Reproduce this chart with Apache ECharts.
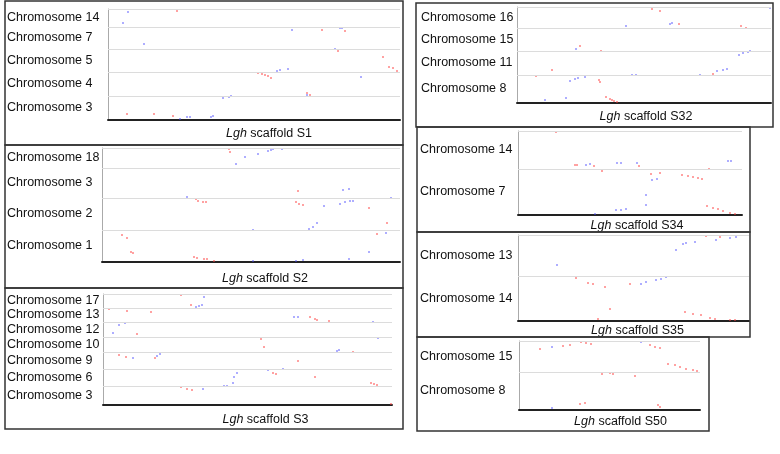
<!DOCTYPE html>
<html lang="en">
<head>
<meta charset="UTF-8">
<title>Lgh scaffold dot plots</title>
<style>
  html, body { margin: 0; padding: 0; background: #fff; }
  #chart { width: 780px; height: 454px; }
</style>
</head>
<body>
<div id="chart"></div>
<script src="https://cdn.jsdelivr.net/npm/echarts@6/dist/echarts.min.js"></script>
<script>
// scaffold S1
const s1Chroms = ['Chromosome 14', 'Chromosome 7', 'Chromosome 5', 'Chromosome 4', 'Chromosome 3'];
const s1Sizes = [18, 22, 23, 24, 24];
const s1Len = 292;
const s1Red = [[69,109],[214,90],[237,89],[230,69],[275,63],[281,53],[285,52],[289,49],[150,47],[154,46],[157,45],[160,44],[163,42],[199,27],[202,25],[19,6],[46,6],[65,4]];
const s1Blue = [[20,108],[15,97],[36,76],[184,90],[232,92],[234,92],[227,71],[169,49],[172,50],[180,51],[253,43],[199,25],[115,22],[121,23],[123,24],[72,1],[79,3],[82,3],[103,3],[105,4]];

// scaffold S2
const s2Chroms = ['Chromosome 18', 'Chromosome 3', 'Chromosome 2', 'Chromosome 1'];
const s2Sizes = [20, 30, 32, 32];
const s2Len = 298;
const s2Red = [[127,113],[128,110],[94,63],[96,61],[101,60],[104,60],[196,71],[194,60],[197,58],[201,57],[267,54],[285,39],[20,27],[25,24],[29,10],[31,9],[92,5],[95,4],[102,3],[105,3],[112,1],[275,28]];
const s2Blue = [[143,105],[134,98],[156,108],[166,111],[169,112],[171,113],[180,113],[85,65],[222,56],[241,72],[247,73],[238,58],[243,60],[248,61],[251,61],[289,64],[215,39],[211,35],[207,33],[151,32],[151,1],[194,1],[201,2],[247,3],[267,10],[284,29]];

// scaffold S3
const s3Chroms = ['Chromosome 17', 'Chromosome 13', 'Chromosome 12', 'Chromosome 10', 'Chromosome 9', 'Chromosome 6', 'Chromosome 3'];
const s3Sizes = [14, 14, 15, 15, 17, 17, 19];
const s3Len = 289;
const s3Red = [[78,110],[6,96],[24,94],[48,93],[88,100],[34,71],[16,50],[23,48],[52,47],[78,18],[84,16],[89,15],[158,66],[161,58],[170,32],[173,31],[195,44],[207,88],[212,86],[214,85],[226,84],[212,28],[250,53],[268,22],[271,21],[274,20],[288,1]];
const s3Blue = [[93,98],[96,99],[99,100],[101,108],[22,82],[16,80],[10,72],[30,47],[54,49],[57,51],[100,16],[121,19],[124,19],[130,22],[131,28],[134,32],[165,35],[180,36],[191,88],[195,88],[234,54],[236,55],[270,83],[275,67]];

// scaffold S32
const s32Chroms = ['Chromosome 16', 'Chromosome 15', 'Chromosome 11', 'Chromosome 8'];
const s32Sizes = [21, 23, 24, 28];
const s32Len = 254;
const s32Red = [[135,94],[143,92],[162,79],[224,77],[229,75],[63,57],[84,52],[35,33],[196,29],[19,27],[82,23],[83,21],[89,6],[93,4],[95,3],[97,2],[100,1]];
const s32Blue = [[253,95],[109,77],[153,79],[155,80],[59,54],[222,48],[226,50],[231,51],[233,52],[206,33],[210,34],[200,32],[183,28],[115,28],[119,28],[53,22],[58,24],[61,25],[68,26],[28,3],[49,5]];

// scaffold S34
const s34Chroms = ['Chromosome 14', 'Chromosome 7'];
const s34Sizes = [38, 46];
const s34Len = 224;
const s34Red = [[38,83],[57,50],[59,50],[76,49],[84,44],[121,49],[133,41],[142,42],[164,40],[170,39],[175,38],[180,37],[184,36],[191,46],[189,9],[195,7],[200,6],[205,4],[212,2],[217,1]];
const s34Blue = [[68,50],[72,51],[99,52],[103,52],[119,52],[134,35],[139,36],[128,20],[128,10],[98,5],[103,5],[108,6],[210,54],[213,54],[77,1]];

// scaffold S35
const s35Chroms = ['Chromosome 13', 'Chromosome 14'];
const s35Sizes = [41, 45];
const s35Len = 231;
const s35Red = [[188,85],[202,84],[58,43],[70,38],[75,37],[87,34],[112,37],[92,12],[80,2],[167,9],[175,7],[183,6],[192,3],[197,2],[212,1],[217,1]];
const s35Blue = [[198,81],[212,83],[218,84],[165,77],[168,78],[177,79],[158,71],[39,56],[123,37],[128,39],[138,41],[143,42],[148,44]];

// scaffold S50
const s50Chroms = ['Chromosome 15', 'Chromosome 8'];
const s50Sizes = [31, 38];
const s50Len = 181;
const s50Red = [[21,61],[44,64],[51,65],[62,68],[67,67],[72,66],[131,65],[136,63],[141,62],[149,46],[156,45],[161,43],[167,41],[174,40],[178,39],[83,36],[91,37],[94,36],[116,34],[61,6],[66,7],[139,5],[141,3]];
const s50Blue = [[33,63],[122,68],[33,2]];

const panels = [
  { id: 'S1', chroms: s1Chroms, sizes: s1Sizes, len: s1Len, red: s1Red, blue: s1Blue },
  { id: 'S2', chroms: s2Chroms, sizes: s2Sizes, len: s2Len, red: s2Red, blue: s2Blue },
  { id: 'S3', chroms: s3Chroms, sizes: s3Sizes, len: s3Len, red: s3Red, blue: s3Blue },
  { id: 'S32', chroms: s32Chroms, sizes: s32Sizes, len: s32Len, red: s32Red, blue: s32Blue },
  { id: 'S34', chroms: s34Chroms, sizes: s34Sizes, len: s34Len, red: s34Red, blue: s34Blue },
  { id: 'S35', chroms: s35Chroms, sizes: s35Sizes, len: s35Len, red: s35Red, blue: s35Blue },
  { id: 'S50', chroms: s50Chroms, sizes: s50Sizes, len: s50Len, red: s50Red, blue: s50Blue }
];

// grid: [left, top, width, height], labelX: left edge of chromosome names,
// off: x axis line offset, gap: name gap, shift: title shift to the right, box: frame rect
const layout = [
  { grid: [108, 9, 292, 111], labelX: 7, off: 3, gap: 4, shift: 15, box: [5, 1, 398, 144] },
  { grid: [102, 148, 298, 114], labelX: 7, off: 3, gap: 7, shift: 14, box: [5, 145, 398, 143] },
  { grid: [103, 294, 289, 111], labelX: 7, off: 3, gap: 5, shift: 18, box: [5, 288, 398, 141] },
  { grid: [517, 7, 254, 96], labelX: 421, off: 2, gap: 5, shift: 2, box: [416, 3, 357, 124] },
  { grid: [518, 131, 224, 84], labelX: 420, off: 3, gap: 1, shift: 7, box: [417, 127, 333, 105] },
  { grid: [518, 235, 231, 86], labelX: 420, off: 3, gap: 0, shift: 4, box: [417, 232, 333, 105] },
  { grid: [519, 341, 181, 69], labelX: 420, off: 2, gap: 3, shift: 11, box: [417, 337, 292, 94] }
];

const FONT = '"Liberation Sans", Arial, sans-serif';
const myChart = echarts.init(document.getElementById('chart'));

const grids = [], xAxes = [], yAxes = [], series = [], graphics = [];

panels.forEach(function (p, i) {
  const L = layout[i];
  const total = p.sizes.reduce((a, b) => a + b, 0);
  const bounds = [];
  const centers = [];
  let acc = 0;
  p.sizes.forEach(function (s) {
    bounds.push(total - acc);
    centers.push(total - acc - s / 2);
    acc += s;
  });

  grids.push({ left: L.grid[0], top: L.grid[1], width: L.grid[2], height: L.grid[3] });

  xAxes.push({
    type: 'value', gridIndex: i, min: 0, max: p.len, offset: L.off,
    axisLine: { show: true, lineStyle: { color: '#222', width: 2 } },
    axisTick: { show: false },
    axisLabel: { show: false },
    splitLine: { show: false },
    name: '{i|Lgh} scaffold ' + p.id,
    nameLocation: 'middle',
    nameGap: L.gap,
    nameTextStyle: {
      color: '#111', fontSize: 12.5, fontFamily: FONT,
      padding: [0, 0, 0, L.shift * 2],
      rich: { i: { fontStyle: 'italic', fontSize: 12.5, fontFamily: FONT, color: '#111' } }
    }
  });

  yAxes.push({
    type: 'value', gridIndex: i, min: 0, max: total,
    axisLine: { show: true, lineStyle: { color: '#aaa', width: 1 } },
    axisTick: { show: false },
    splitLine: { show: false },
    axisLabel: {
      customValues: centers,
      formatter: function (v) {
        let best = 0;
        centers.forEach((c, k) => { if (Math.abs(c - v) < Math.abs(centers[best] - v)) best = k; });
        return p.chroms[best];
      },
      align: 'left',
      margin: L.grid[0] - L.labelX,
      padding: [2, 0, 0, 0],
      color: '#111', fontSize: 12.5, fontFamily: FONT
    }
  });

  series.push({
    type: 'scatter', xAxisIndex: i, yAxisIndex: i, clip: false,
    symbol: 'rect', symbolSize: 2,
    itemStyle: { color: 'rgba(255, 60, 60, 0.6)' },
    data: p.red,
    markLine: {
      silent: true, symbol: ['none', 'none'], animation: false,
      label: { show: false },
      lineStyle: { color: '#dcdcdc', type: 'solid', width: 1 },
      data: bounds.map(b => ({ yAxis: b }))
    }
  });
  series.push({
    type: 'scatter', xAxisIndex: i, yAxisIndex: i, clip: false,
    symbol: 'rect', symbolSize: 2,
    itemStyle: { color: 'rgba(70, 70, 255, 0.55)' },
    data: p.blue
  });

  graphics.push({
    type: 'rect', silent: true, z: 100,
    shape: { x: L.box[0], y: L.box[1], width: L.box[2], height: L.box[3] },
    style: { fill: 'none', stroke: '#333', lineWidth: 1.5 }
  });
});

const option = {
  animation: false,
  backgroundColor: '#fff',
  grid: grids,
  xAxis: xAxes,
  yAxis: yAxes,
  series: series,
  graphic: graphics
};
myChart.setOption(option, true);
</script>
</body>
</html>
